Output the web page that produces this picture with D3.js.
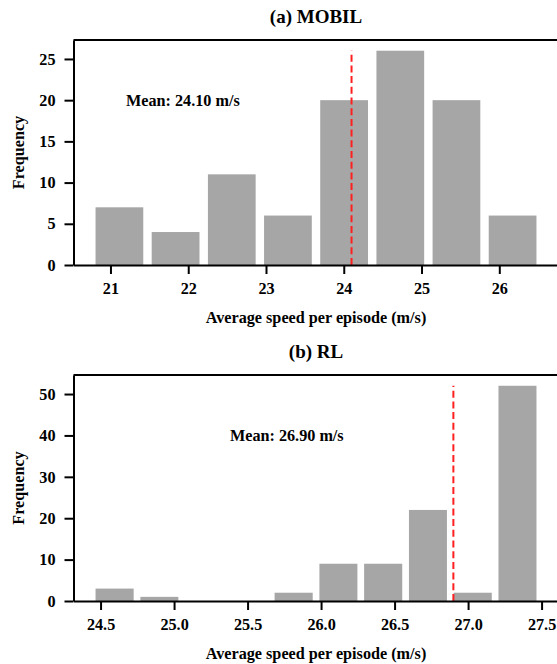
<!DOCTYPE html>
<html>
<head>
<meta charset="utf-8">
<script src="https://cdn.jsdelivr.net/npm/d3@7"></script>
<style>
  body { margin: 0; background: #fff; }
  svg { display: block; }
  text { font-family: "Liberation Serif", "Times New Roman", serif; font-weight: bold; }
</style>
</head>
<body>
<svg width="557" height="664"></svg>
<script>
// histogram bins (m/s) and counts for each controller
const mobilEdges = [20.754, 21.476, 22.199, 22.921, 23.643, 24.366, 25.088, 25.810, 26.532];
const mobilCounts = [7, 4, 11, 6, 20, 26, 20, 6];
const mobilMean = 24.10;
const mobilTicks = [21, 22, 23, 24, 25, 26];
const mobilYTicks = [0, 5, 10, 15, 20, 25];

const rlEdges = [24.443, 24.748, 25.052, 25.357, 25.661, 25.966, 26.270, 26.575, 26.879, 27.184, 27.488];
const rlCounts = [3, 1, 0, 0, 2, 9, 9, 22, 2, 52];
const rlMean = 26.90;
const rlTicks = [24.5, 25.0, 25.5, 26.0, 26.5, 27.0, 27.5];
const rlYTicks = [0, 10, 20, 30, 40, 50];

const svg = d3.select('svg')

svg.append('rect')
  .attr('width', 557)
  .attr('height', 664)
  .attr('fill', 'white')

function drawPanel(p) {
  const g = svg.append('g')

  // matplotlib-style limits: 5% margin around the bars
  const bw = p.edges[1] - p.edges[0]
  const lo = p.edges[0] + bw * 0.075
  const hi = p.edges[p.edges.length - 1] - bw * 0.075
  const pad = (hi - lo) * 0.05
  const ymax = d3.max(p.counts) * 1.05

  const x = d3.scaleLinear().domain([lo - pad, hi + pad]).range([p.left, p.right])
  const y = d3.scaleLinear().domain([0, ymax]).range([p.bottom, p.top])

  const bins = p.counts.map((c, i) => ({ x0: p.edges[i], x1: p.edges[i + 1], n: c }))

  // bars, 85% of bin width
  g.selectAll('rect.bar')
    .data(bins.filter(d => d.n > 0))
    .join('rect')
    .attr('class', 'bar')
    .attr('x', d => x(d.x0 + (d.x1 - d.x0) * 0.075))
    .attr('width', d => (x(d.x1) - x(d.x0)) * 0.85)
    .attr('y', d => y(d.n))
    .attr('height', d => y(0) - y(d.n))
    .attr('fill', '#a6a6a6')

  // mean line
  g.append('line')
    .attr('x1', x(p.mean))
    .attr('x2', x(p.mean))
    .attr('y1', y(0))
    .attr('y2', y(d3.max(p.counts)))
    .attr('stroke', '#ff2020')
    .attr('stroke-width', 2)
    .attr('stroke-dasharray', '7,3.7')

  g.append('text')
    .attr('x', x(p.labelAt[0]))
    .attr('y', y(p.labelAt[1]))
    .attr('dy', '0.35em')
    .attr('font-size', '16.2px')
    .text('Mean: ' + p.mean.toFixed(2) + ' m/s')

  // axes
  const xAxis = g.append('g')
    .attr('transform', `translate(0,${p.bottom})`)
    .call(d3.axisBottom(x).tickValues(p.xticks).tickFormat(p.fmt).tickSize(9).tickPadding(8).tickSizeOuter(0))
  const yAxis = g.append('g')
    .attr('transform', `translate(${p.left},0)`)
    .call(d3.axisLeft(y).tickValues(p.yticks).tickSize(9).tickPadding(9).tickSizeOuter(0))

  for (const a of [xAxis, yAxis]) {
    a.selectAll('.domain').attr('stroke', 'black').attr('stroke-width', 2)
    a.selectAll('.tick line').attr('stroke', 'black').attr('stroke-width', 2)
    a.selectAll('.tick text')
      .attr('fill', 'black')
      .attr('font-size', '16.2px')
      .attr('font-family', '"Liberation Serif", serif')
      .attr('font-weight', 'bold')
  }

  // top and right spines
  g.append('line')
    .attr('x1', p.left).attr('x2', p.right)
    .attr('y1', p.top).attr('y2', p.top)
    .attr('stroke', 'black').attr('stroke-width', 2)
  g.append('line')
    .attr('x1', p.right).attr('x2', p.right)
    .attr('y1', p.top).attr('y2', p.bottom)
    .attr('stroke', 'black').attr('stroke-width', 2)

  // titles and axis labels
  const cx = (p.left + p.right) / 2
  g.append('text')
    .attr('x', cx)
    .attr('y', p.top - 17)
    .attr('text-anchor', 'middle')
    .attr('font-size', '19px')
    .text(p.title)

  g.append('text')
    .attr('x', cx)
    .attr('y', p.bottom + 58)
    .attr('text-anchor', 'middle')
    .attr('font-size', '16.2px')
    .text('Average speed per episode (m/s)')

  g.append('text')
    .attr('transform', `translate(${p.left - 50},${(p.top + p.bottom) / 2}) rotate(-90)`)
    .attr('text-anchor', 'middle')
    .attr('font-size', '16.2px')
    .text('Frequency')
}

drawPanel({
  title: '(a) MOBIL',
  edges: mobilEdges, counts: mobilCounts, mean: mobilMean,
  xticks: mobilTicks, yticks: mobilYTicks, fmt: d3.format('d'),
  labelAt: [21.2, 20],
  left: 73.5, right: 558.5, top: 40, bottom: 265
})

drawPanel({
  title: '(b) RL',
  edges: rlEdges, counts: rlCounts, mean: rlMean,
  xticks: rlTicks, yticks: rlYTicks, fmt: d3.format('.1f'),
  labelAt: [25.38, 40],
  left: 73.5, right: 558.5, top: 375, bottom: 601
})
</script>
</body>
</html>
